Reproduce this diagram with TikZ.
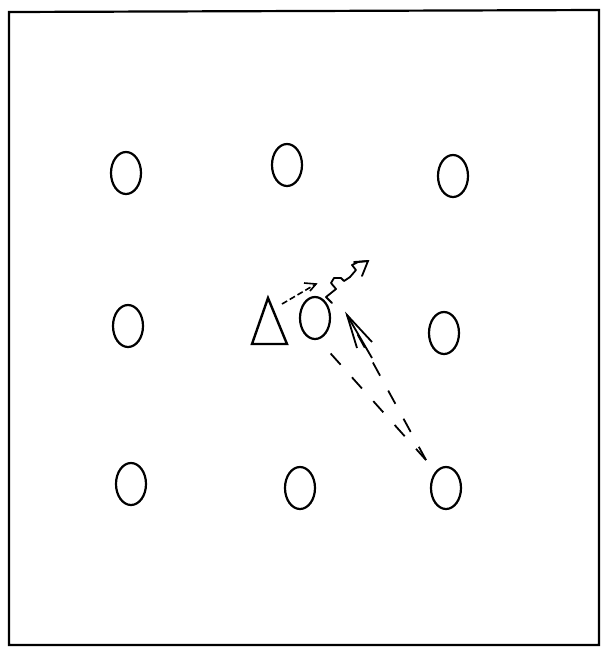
\documentclass[tikz,border=0pt]{standalone}
\usetikzlibrary{shapes.geometric,arrows.meta}
\begin{document}
\begin{tikzpicture}[x=1pt,y=-1pt,
  site/.style={ellipse,draw,line width=2.2pt,minimum width=30pt,minimum height=42pt,inner sep=0pt},
  dsh/.style={line width=1.8pt,dash pattern=on 15pt off 17pt}]
\useasboundingbox (0,0) rectangle (601,649);
\draw[line width=2.2pt] (9,12) -- (599,10) -- (599,645) -- (9,645) -- cycle;
% sites
\node[site] (a1) at (126,173) {};
\node[site] (a2) at (287,165) {};
\node[site] (a3) at (453,176) {};
\node[site] (b1) at (128,326) {};
\node[site] (b2) at (315,318) {};
\node[site] (b3) at (444,333) {};
\node[site] (c1) at (131,484) {};
\node[site] (c2) at (300,488) {};
\node[site] (c3) at (446,488) {};
% triangle
\coordinate (tA) at (268,298);
\draw[line width=2.4pt,line join=miter] (tA) -- (252,344) -- (287,344) -- cycle;
% dashed arrow from triangle
\coordinate (d0) at (282,304);
\coordinate (d1) at (316,284);
\draw[line width=1.6pt,dash pattern=on 6pt off 3pt] (d0) -- (d1);
\draw[line width=1.6pt] (304,283) -- (d1) -- (310,291);
% wavy arrow
\coordinate (w0) at (332,303);
\coordinate (w1) at (368,261);
\draw[line width=1.8pt,line join=round,line cap=round] (w0) -- (326,297) -- (336,289) -- (331,283) -- (334,278) -- (341,278) -- (344,281) -- (350,277) -- (356,270) -- (352,265) -- (358,262) -- (w1);
\draw[line width=1.8pt,line cap=round] (354,262) -- (w1) -- (362,276);
% dashed lines from lower right site
\coordinate (s) at (426,460);
\coordinate (e1) at (323,345);
\coordinate (e2) at (347,315);
\draw[dsh] (s) -- (e1);
\draw[dsh] (s) -- (e2);
\draw[line width=1.8pt] (372,342) -- (e2) -- (357,348);
\draw[line width=1.8pt] (e2) -- (372,358);
\end{tikzpicture}
\end{document}
